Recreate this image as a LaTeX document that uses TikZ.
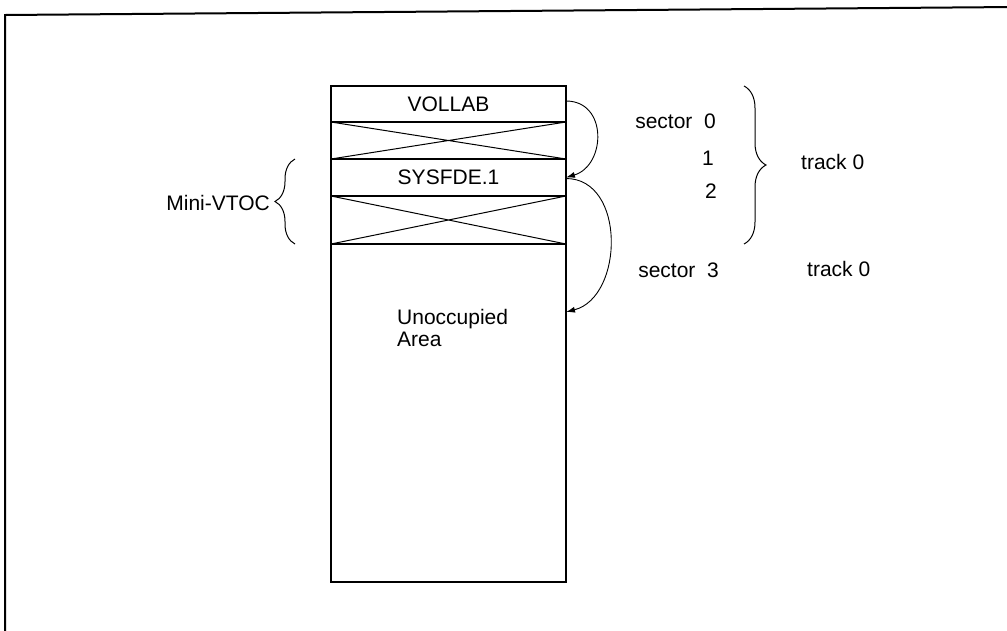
\documentclass[tikz,border=0pt]{standalone}
\usepackage{fontspec}
\setmainfont{Liberation Sans}
\usetikzlibrary{arrows.meta, positioning, decorations.pathreplacing}
\tikzset{
  lbl/.style={font=\fontsize{21}{22}\selectfont, inner sep=0pt},
  slot/.style={draw, line width=1.3pt, minimum width=235pt,
               inner sep=0pt, outer sep=0pt, font=\fontsize{21}{22}\selectfont},
  link/.style={line width=0.9pt, -{Latex[length=9pt, width=6pt]}},
  curly/.style={line width=1pt, decorate, decoration={brace, amplitude=#1}},
  frame/.style={line width=2pt},
}
\begin{document}
\begin{tikzpicture}[x=1pt, y=-1pt]
    \useasboundingbox (0,0) rectangle (1007,630);
    \clip (0,0) rectangle (1007,630);
    % Page frame
    \draw[frame] (5,640) -- (5,15) -- (1015,7);
    % Disk layout column
    \node[slot, minimum height=36pt] (vollab) at (448.5,104) {VOLLAB};
    \node[slot, minimum height=37pt, below=0pt of vollab] (used1) {};
    \node[slot, minimum height=37pt, below=0pt of used1] (sysfde) {SYSFDE.1};
    \node[slot, minimum height=48pt, below=0pt of sysfde] (used2) {};
    \node[slot, minimum height=338pt, below=0pt of used2] (free) {};
    % Crossed-out sectors
    \foreach \n in {used1, used2}
      \draw[line width=1pt] (\n.north west) -- (\n.south east)
                            (\n.south west) -- (\n.north east);
    \node[lbl, align=left, anchor=north west] (unocc) at (397,309)
      {Unoccupied\\Area};
    % Pointers
    \draw[link] ([yshift=3pt]vollab.east)
      .. controls +(42,0) and +(40,-12) .. (sysfde.east);
    \draw[link] ([yshift=-1pt]sysfde.east)
      .. controls +(60,0) and +(58,-15) .. ([yshift=-68pt]free.north east);
    % Mini-VTOC brace
    \draw[curly=20pt] ([xshift=-36pt]used2.south west)
      -- ([xshift=-36pt]sysfde.north west);
    \node[lbl, anchor=east] (minivtoc) at (270,203) {Mini-VTOC};
    % Sector / track labels
    \draw[curly=22pt] ([xshift=178pt]vollab.north east)
      -- ([xshift=178pt]used2.south east);
    \node[lbl, anchor=base east] (sec0) at (716,128) {sector\ \ 0};
    \node[lbl, anchor=base east] (sec1) at (714,165) {1};
    \node[lbl, anchor=base east] (sec2) at (717,198) {2};
    \node[lbl, anchor=base west] (trk0) at (801,169) {track 0};
    \node[lbl, anchor=base east] (sec3) at (719,277) {sector\ \ 3};
    \node[lbl, anchor=base west] (trk3) at (807,276) {track 0};
\end{tikzpicture}
\end{document}
